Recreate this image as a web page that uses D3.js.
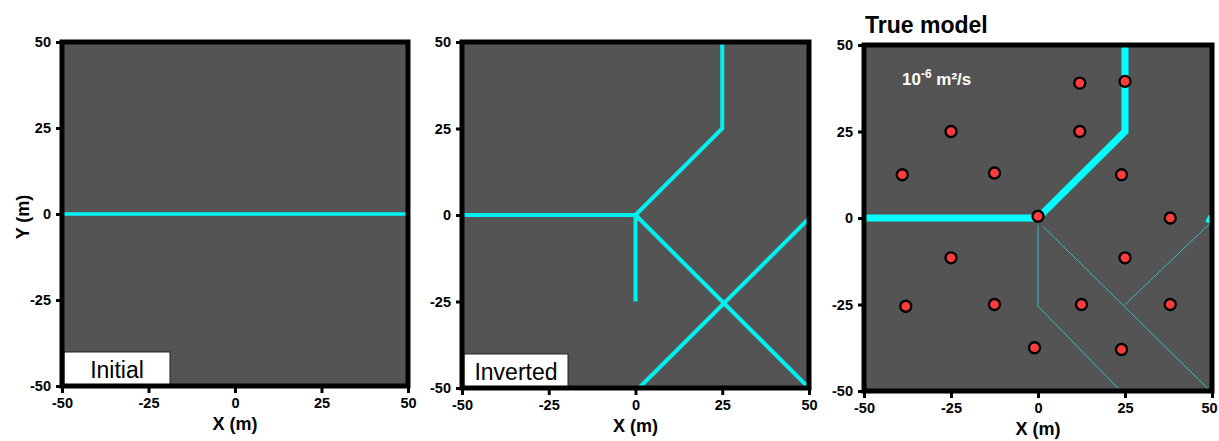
<!DOCTYPE html>
<html>
<head>
  <meta charset="utf-8">
  <title>Initial / Inverted / True model</title>
  <style>
    body { margin: 0; background: white; }
    svg { display: block; font-family: "Liberation Sans", Arial, sans-serif; }
  </style>
</head>
<body>
  <div id="chart"></div>

  <script src="https://d3js.org/d3.v7.min.js"></script>
  <script>
    const tickValues = [-50, -25, 0, 25, 50];

    // fracture traces, one polyline per entry, in metres
    const initialLines = [
      [[-50, 0], [50, 0]]
    ];
    const invertedLines = [
      [[-50, 0], [0, 0]],
      [[0, 0], [25, 25], [25, 50]],
      [[0, 0], [0, -25]],
      [[0, 0], [50, -50]],
      [[1, -50], [50, -1]]
    ];
    const trueThickLines = [
      [[-50, 0], [0, 0], [25, 25], [25, 50]],
      [[49, -1.5], [50, 0.5]]
    ];
    const trueThinLines = [
      [[0, -2], [0, -25.5], [23.8, -50]],
      [[1.5, -2.5], [49.5, -50]],
      [[25, -25], [49.5, -1.5]]
    ];

    // observation wells
    const wellX = [12, 25, -25, -39, -12.5, 12, 24, 0, 38, -25, 25, -38, -12.5, 12.5, 38, -1, 24];
    const wellY = [39, 39.5, 25, 12.5, 13, 25, 12.5, 0.5, 0, -11.5, -11.5, -25.5, -25, -25, -25, -37.5, -38];

    const width = 1219, height = 441;
    const font = '"Liberation Sans", Arial, sans-serif';
    const svg = d3.select("#chart").append("svg")
      .attr("width", width)
      .attr("height", height);

    const panels = [
      { id: "p1", left: 62, right: 408, top: 42, bottom: 386, label: "Initial" },
      { id: "p2", left: 462, right: 809, top: 42, bottom: 388, label: "Inverted" },
      { id: "p3", left: 864, right: 1212, top: 45, bottom: 391 }
    ];

    panels.forEach(p => {
      p.x = d3.scaleLinear().domain([-50, 50]).range([p.left, p.right]);
      p.y = d3.scaleLinear().domain([-50, 50]).range([p.bottom, p.top]);
      p.g = svg.append("g").attr("id", p.id);

      svg.append("clipPath").attr("id", "clip-" + p.id)
        .append("rect")
        .attr("x", p.left).attr("y", p.top)
        .attr("width", p.right - p.left).attr("height", p.bottom - p.top);

      p.g.append("rect")
        .attr("x", p.left).attr("y", p.top)
        .attr("width", p.right - p.left).attr("height", p.bottom - p.top)
        .attr("fill", "#545454");

      p.plot = p.g.append("g").attr("clip-path", "url(#clip-" + p.id + ")");
    });

    function drawLines(p, lines, color, w) {
      const line = d3.line().x(d => p.x(d[0])).y(d => p.y(d[1]));
      p.plot.selectAll(null)
        .data(lines)
        .enter()
        .append("path")
        .attr("d", line)
        .attr("fill", "none")
        .attr("stroke", color)
        .attr("stroke-width", w)
        .attr("stroke-linejoin", "miter");
    }

    drawLines(panels[0], initialLines, "#00f5f5", 3.5);
    drawLines(panels[1], invertedLines, "#00f0f0", 4);
    drawLines(panels[2], trueThinLines, "#2fbcc0", 1);
    drawLines(panels[2], trueThickLines, "#00ffff", 7);

    // wells on the true model
    const p3 = panels[2];
    p3.plot.selectAll(".well")
      .data(wellX.map((x, i) => [x, wellY[i]]))
      .enter()
      .append("circle")
      .attr("class", "well")
      .attr("cx", d => p3.x(d[0]))
      .attr("cy", d => p3.y(d[1]))
      .attr("r", 5.5)
      .attr("fill", "#ff3b3b")
      .attr("stroke", "black")
      .attr("stroke-width", 2.3);

    // label boxes
    panels.filter(p => p.label).forEach(p => {
      const bw = p.label === "Initial" ? 106 : 104, bh = 34;
      p.g.append("rect")
        .attr("x", p.left + 2).attr("y", p.bottom - bh)
        .attr("width", bw).attr("height", bh)
        .attr("fill", "white")
        .attr("stroke", "#222")
        .attr("stroke-width", 1);
      p.g.append("text")
        .attr("x", p.left + 2 + bw / 2)
        .attr("y", p.bottom - 8)
        .attr("text-anchor", "middle")
        .attr("font-family", font)
        .attr("font-size", "23px")
        .text(p.label);
    });

    // frames and axes
    const fmt = d => String(d);
    panels.forEach(p => {
      p.g.append("rect")
        .attr("x", p.left).attr("y", p.top)
        .attr("width", p.right - p.left).attr("height", p.bottom - p.top)
        .attr("fill", "none")
        .attr("stroke", "black")
        .attr("stroke-width", 5);

      const ax = p.g.append("g")
        .attr("transform", "translate(0," + (p.bottom + 2) + ")")
        .call(d3.axisBottom(p.x).tickValues(tickValues).tickFormat(fmt).tickSize(5).tickPadding(5));
      const ay = p.g.append("g")
        .attr("transform", "translate(" + (p.left - 2) + ",0)")
        .call(d3.axisLeft(p.y).tickValues(tickValues).tickFormat(fmt).tickSize(4).tickPadding(5));

      [ax, ay].forEach(a => {
        a.select(".domain").remove();
        a.attr("font-family", font).attr("font-size", 14.5).attr("font-weight", "bold");
        a.selectAll(".tick line").attr("stroke-width", 3);
      });

      // keep the last label of the right-hand panel inside the page
      if (p.right > width - 20) {
        ax.selectAll(".tick text").filter(d => d === 50).attr("x", -3);
      }

      p.g.append("text")
        .attr("x", (p.left + p.right) / 2)
        .attr("y", p.bottom + 44)
        .attr("text-anchor", "middle")
        .attr("font-family", font)
        .attr("font-weight", "bold")
        .attr("font-size", "18px")
        .text("X (m)");
    });

    svg.append("text")
      .attr("transform", "translate(29,217) rotate(-90)")
      .attr("text-anchor", "middle")
      .attr("font-family", font)
      .attr("font-weight", "bold")
      .attr("font-size", "18px")
      .text("Y (m)");

    svg.append("text")
      .attr("x", 865)
      .attr("y", 33)
      .attr("font-family", font)
      .attr("font-weight", "bold")
      .attr("font-size", "23px")
      .text("True model");

    const unit = svg.append("text")
      .attr("x", 902)
      .attr("y", 85)
      .attr("fill", "white")
      .attr("font-family", font)
      .attr("font-weight", "bold")
      .attr("font-size", "17px");
    unit.append("tspan").text("10");
    unit.append("tspan").attr("dy", -7).attr("font-size", "12px").text("-6");
    unit.append("tspan").attr("dy", 7).text(" m²/s");
  </script>
</body>
</html>
